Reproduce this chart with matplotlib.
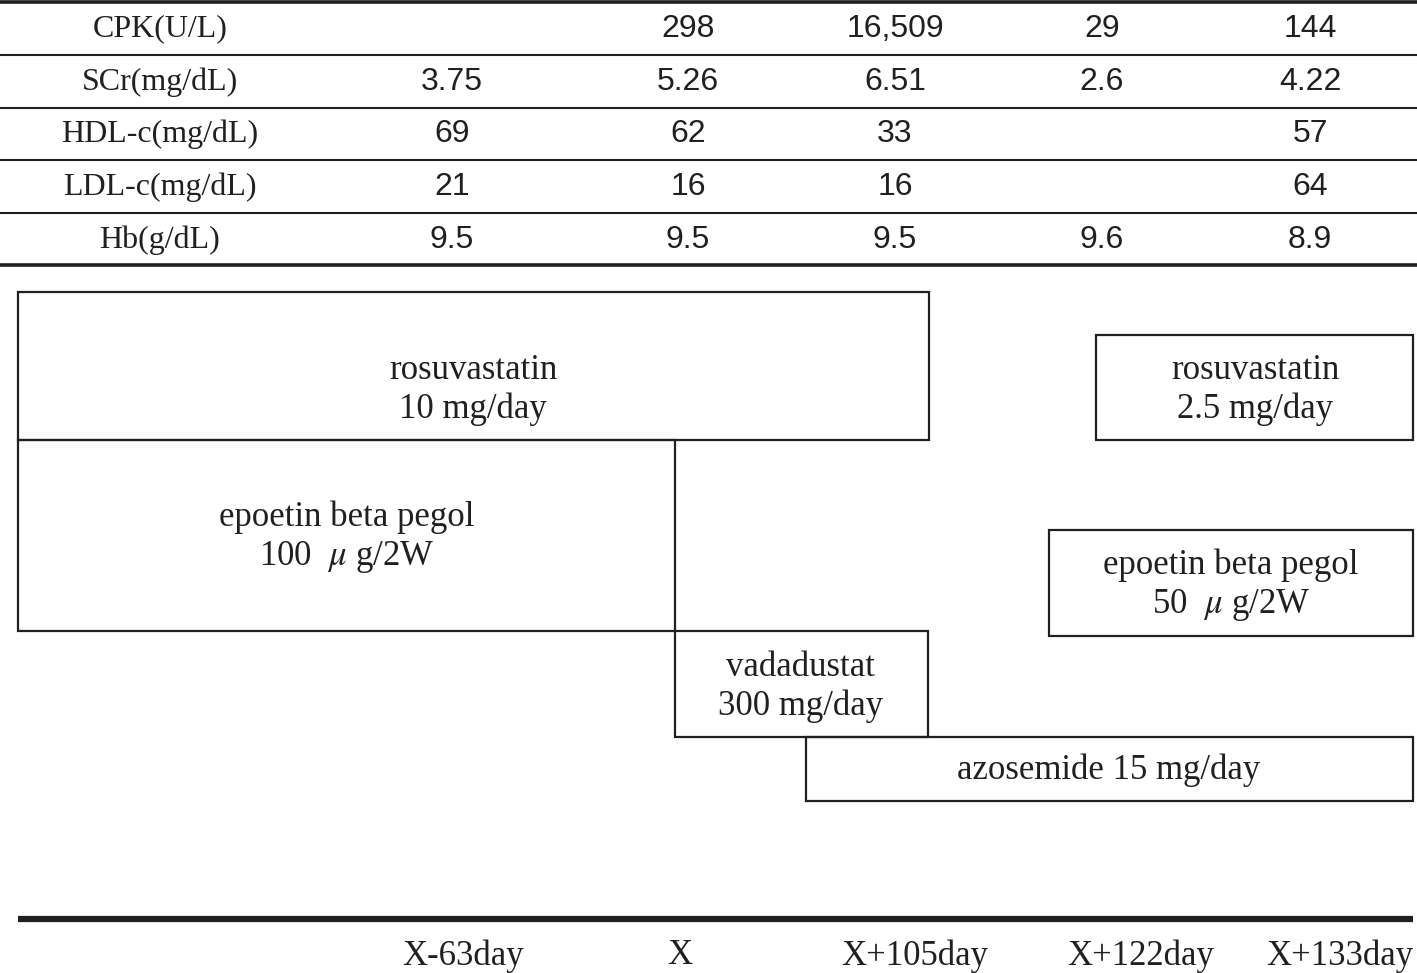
"""
Lab values table + medication timeline (rosuvastatin / ESA / vadadustat / azosemide).
"""
import matplotlib

matplotlib.use("Agg")
import matplotlib.pyplot as plt
from matplotlib.patches import Rectangle

plt.rcParams["mathtext.fontset"] = "stix"

INK = "#231f20"
SERIF = ["Liberation Serif", "DejaVu Serif"]
SANS = ["Liberation Sans", "DejaVu Sans"]

# --- data ---------------------------------------------------------------
row_labels = ["CPK(U/L)", "SCr(mg/dL)", "HDL-c(mg/dL)", "LDL-c(mg/dL)", "Hb(g/dL)"]
cpk = ["", "298", "16,509", "29", "144"]
scr = ["3.75", "5.26", "6.51", "2.6", "4.22"]
hdl = ["69", "62", "33", "", "57"]
ldl = ["21", "16", "16", "", "64"]
hb = ["9.5", "9.5", "9.5", "9.6", "8.9"]
table_rows = [cpk, scr, hdl, ldl, hb]

time_labels = ["X-63day", "X", "X+105day", "X+122day", "X+133day"]

drug_names = [
    "rosuvastatin\n10 mg/day",
    "epoetin beta pegol\n100  $\\mu$ g/2W",
    "vadadustat\n300 mg/day",
    "azosemide 15 mg/day",
    "rosuvastatin\n2.5 mg/day",
    "epoetin beta pegol\n50  $\\mu$ g/2W",
]

# --- layout (figure pixel units, y downwards) ---------------------------
W, H = 1417, 973
label_x = 160
value_x = [452, 688, 895, 1102, 1310]
row_y = [29, 82, 134, 187, 240]
rule_y = [2, 55, 108, 160, 213, 265]
time_x = [463, 680, 915, 1141, 1340]
time_y = 956
axis_y = 919
# (x0, x1, y0, y1) per drug box, and text centre
drug_boxes = [
    (18, 929, 292, 440),
    (18, 675, 440, 631),
    (675, 928, 631, 737),
    (806, 1413, 737, 801),
    (1096, 1413, 335, 440),
    (1049, 1413, 530, 636),
]
drug_text_xy = [
    (473, 390),
    (347, 538),
    (801, 687),
    (1109, 770),
    (1255, 390),
    (1231, 586),
]

fig = plt.figure(figsize=(W / 100, H / 100), dpi=100)
ax = fig.add_axes([0, 0, 1, 1])
ax.set_xlim(0, W)
ax.set_ylim(H, 0)
ax.axis("off")

# table rules
for i, y in enumerate(rule_y):
    lw = 2.6 if i in (0, len(rule_y) - 1) else 1.5
    ax.plot([0, W], [y, y], color=INK, linewidth=lw, solid_capstyle="butt")

# table text
for label, vals, y in zip(row_labels, table_rows, row_y):
    ax.text(label_x, y, label, ha="center", va="center", fontsize=23,
            family=SERIF, color=INK)
    for x, v in zip(value_x, vals):
        if v:
            ax.text(x, y, v, ha="center", va="center", fontsize=23,
                    family=SANS, color=INK)

# drug boxes
for (x0, x1, y0, y1), name, (tx, ty) in zip(drug_boxes, drug_names, drug_text_xy):
    ax.add_patch(Rectangle((x0, y0), x1 - x0, y1 - y0, fill=False,
                           edgecolor=INK, linewidth=1.6))
    ax.text(tx, ty, name, ha="center", va="center", fontsize=25,
            family=SERIF, color=INK, linespacing=1.2)

# time axis
ax.plot([18, 1413], [axis_y, axis_y], color=INK, linewidth=4.5,
        solid_capstyle="butt")
for x, t in zip(time_x, time_labels):
    ax.text(x, time_y, t, ha="center", va="center", fontsize=25,
            family=SERIF, color=INK)

fig.savefig("out.png", dpi=100, facecolor="white")
plt.close(fig)
